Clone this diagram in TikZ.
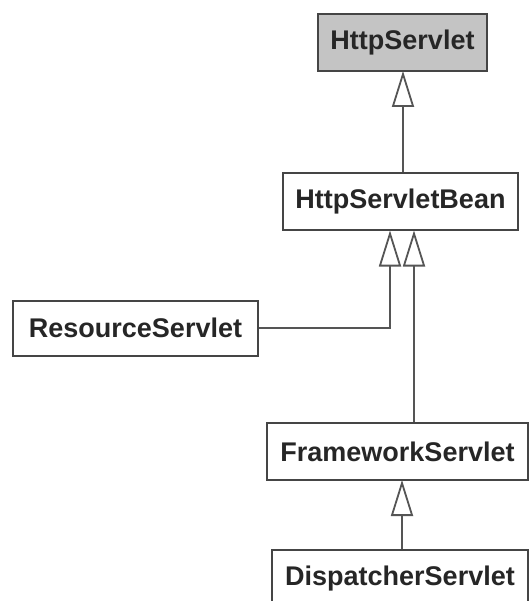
\documentclass[tikz,border=0pt]{standalone}
\usepackage{fontspec}
\setmainfont{Liberation Sans}
\usetikzlibrary{arrows.meta}
\definecolor{edge}{HTML}{555555}
\definecolor{boxline}{HTML}{454545}
\definecolor{topfill}{HTML}{C4C4C4}
\tikzset{
  cls/.style={draw=boxline, line width=2pt, fill=white, minimum height=57pt,
    inner sep=0pt, font=\fontsize{27pt}{30pt}\selectfont\bfseries, text=black!85},
  gen/.style={draw=edge, line width=2pt,
    -{Triangle[open, length=36pt, width=22pt, fill=white, line width=1.8pt]}},
}
\begin{document}
\begin{tikzpicture}[x=1pt,y=-1pt]
\clip (0,0) rectangle (530,601);
\fill[white] (0,0) rectangle (530,601);
\node[cls, fill=topfill, minimum width=169pt] (servlet) at (402.5,42.5) {HttpServlet};
\node[cls, minimum width=235pt] (bean) at (400.5,202) {HttpServletBean};
\node[cls, minimum width=245pt, minimum height=55pt] (res) at (135.5,328) {ResourceServlet};
\node[cls, minimum width=261pt] (fw) at (397.5,451.5) {FrameworkServlet};
\node[cls, minimum width=256pt] (disp) at (400,578.5) {DispatcherServlet};
\coordinate (tipL) at (390,230.5);
\coordinate (tipR) at (414,230.5);
\coordinate (tipT) at (403,71);
\coordinate (tipF) at (402,480);
\draw[gen] (tipT |- bean.north) -- (tipT);
\draw[gen] (res.east) -| (tipL);
\draw[gen] (tipR |- fw.north) -- (tipR);
\draw[gen] (tipF |- disp.north) -- (tipF);
\end{tikzpicture}
\end{document}
